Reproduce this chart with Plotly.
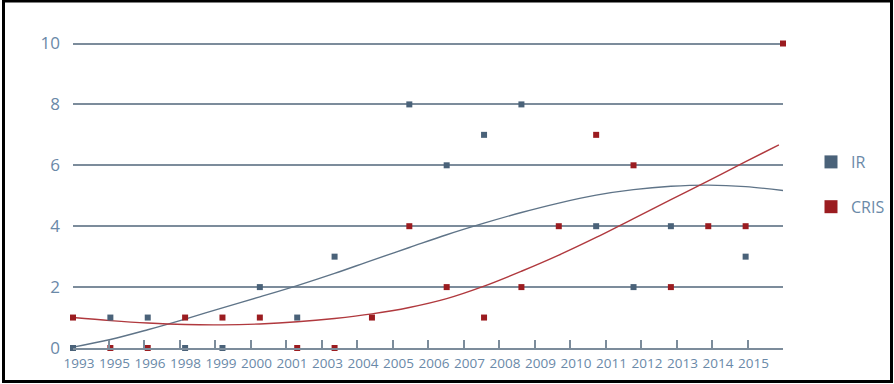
import plotly.graph_objects as go

# ---- data ----
year_labels = ["1993", "1995", "1996", "1998", "1999", "2000", "2001", "2003", "2004", "2005",
               "2006", "2007", "2008", "2009", "2010", "2011", "2012", "2013", "2014", "2015"]
ir_values = [0, 1, 1, 0, 0, 2, 1, 3, None, 8, 6, 7, 8, None, 4, 2, 4, None, 3, None]
cris_values = [1, 0, 0, 1, 1, 1, 0, 0, 1, 4, 2, 1, 2, 4, 7, 6, 2, 4, 4, 10]

# trend curves (position index -> value)
ir_trend_x = [0, 1, 2, 3, 4, 5, 6, 7, 8, 9, 10, 11, 12, 13, 14, 15, 16, 17, 18, 19]
ir_trend = [0.03, 0.28, 0.60, 0.95, 1.32, 1.68, 2.05, 2.45, 2.88, 3.30, 3.72, 4.10, 4.45,
            4.76, 5.02, 5.20, 5.31, 5.35, 5.30, 5.17]
cris_trend_x = [0, 1, 2, 3, 4, 5, 6, 7, 8, 9, 10, 11, 12, 13, 14, 15, 16, 17, 18, 18.89]
cris_trend = [1.00, 0.90, 0.82, 0.77, 0.76, 0.79, 0.86, 0.97, 1.12, 1.33, 1.62, 2.03, 2.52,
              3.05, 3.63, 4.25, 4.87, 5.49, 6.12, 6.67]

y_ticks = [0, 2, 4, 6, 8, 10]

IR_COLOR = "#4a6279"
CRIS_COLOR = "#9b1c20"
TEXT_COLOR = "#6a89a8"
GRID_COLOR = "#7c8c9b"

n = len(year_labels)
xs = list(range(n))

fig = go.Figure()

fig.add_trace(go.Scatter(x=ir_trend_x, y=ir_trend, mode="lines", line=dict(color="#5f7488", width=1.4, shape="spline"),
                         showlegend=False, hoverinfo="skip", cliponaxis=False))
fig.add_trace(go.Scatter(x=cris_trend_x, y=cris_trend, mode="lines", line=dict(color="#b0393e", width=1.4, shape="spline"),
                         showlegend=False, hoverinfo="skip", cliponaxis=False))

fig.add_trace(go.Scatter(x=xs, y=ir_values, mode="markers", name="IR", showlegend=False,
                         marker=dict(symbol="square", size=6, color=IR_COLOR),
                         cliponaxis=False))
fig.add_trace(go.Scatter(x=xs, y=cris_values, mode="markers", name="CRIS", showlegend=False,
                         marker=dict(symbol="square", size=6, color=CRIS_COLOR),
                         cliponaxis=False))

# legend entries
fig.add_trace(go.Scatter(x=[None], y=[None], mode="markers", name="IR", legendgroup="a",
                         marker=dict(symbol="square", size=13, color=IR_COLOR)))
fig.add_trace(go.Scatter(x=[None], y=[None], mode="markers", name="CRIS", legendgroup="b",
                         marker=dict(symbol="square", size=13, color=CRIS_COLOR)))

L, R, T, B = 73, 111, 40, 36
W, H = 894, 384
pw, ph = W - L - R, H - T - B
y_top = ph / 30.45  # 10 sits at pixel 43.5

tick_pos = [i * (n - 1) / n for i in range(n + 1)]
tick_txt = year_labels + [""]

fig.update_layout(
    width=W, height=H,
    margin=dict(l=L, r=R, t=T, b=B, autoexpand=False),
    paper_bgcolor="white", plot_bgcolor="white",
    font=dict(family="Open Sans, sans-serif", color=TEXT_COLOR),
    legend=dict(x=(811 - L) / pw, y=(348 - 145) / ph, xanchor="left", yanchor="top",
                font=dict(size=16, color=TEXT_COLOR), tracegroupgap=21,
                bgcolor="rgba(0,0,0,0)"),
    xaxis=dict(range=[0, n - 1], tickvals=tick_pos, ticktext=tick_txt,
               showgrid=False, zeroline=False, showline=True, linecolor=GRID_COLOR, linewidth=1.5,
               ticks="inside", ticklen=8, tickwidth=1.5, tickcolor=GRID_COLOR,
               ticklabelshift=6, ticklabelstandoff=2, tickfont=dict(size=13.5, color=TEXT_COLOR)),
    yaxis=dict(range=[0, y_top], tickvals=y_ticks, showgrid=True, gridcolor=GRID_COLOR, gridwidth=1.5,
               zeroline=False, showline=False, ticks="", ticklabelstandoff=12,
               tickfont=dict(size=17, color=TEXT_COLOR)),
    shapes=[dict(type="rect", xref="paper", yref="paper",
                 x0=(3.5 - L) / pw, x1=(891.5 - L) / pw,
                 y0=(348 - 381.5) / ph, y1=(348 - 1) / ph,
                 line=dict(color="#000000", width=3), fillcolor="rgba(0,0,0,0)", layer="below")],
)

fig.write_html("out.html")
